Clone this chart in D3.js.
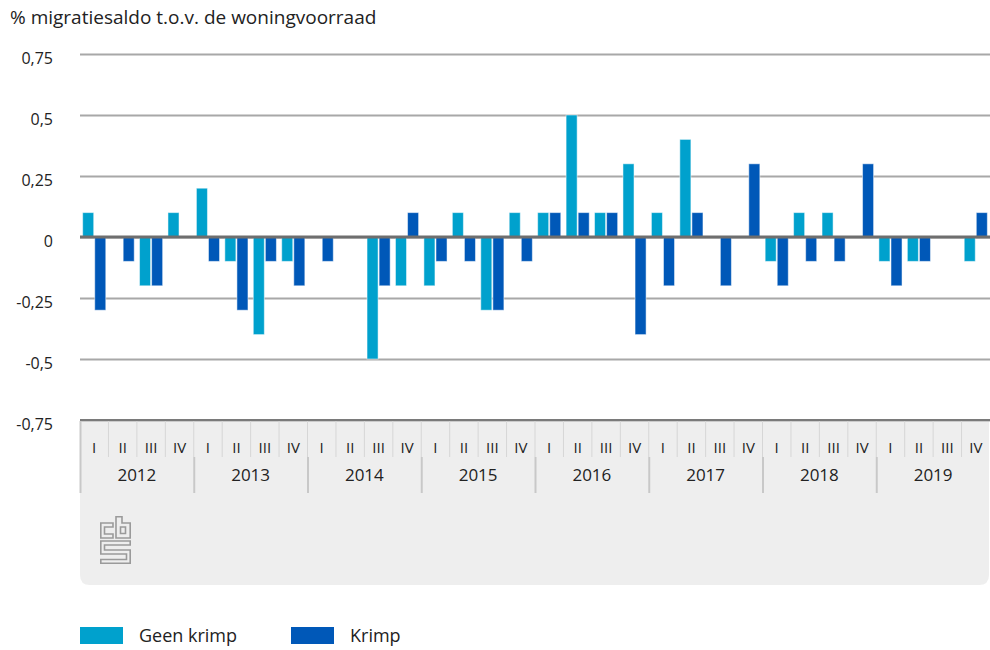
<!DOCTYPE html>
<html>
<head>
<meta charset="utf-8">
<script src="https://cdn.jsdelivr.net/npm/d3@7"></script>
<style>
  body { margin: 0; background: #fff; }
  svg text { font-family: "Open Sans", sans-serif; fill: #222; }
</style>
</head>
<body>
<div id="viz"></div>
<script>
var years = ["2012", "2013", "2014", "2015", "2016", "2017", "2018", "2019"],
    quarterNames = ["I", "II", "III", "IV"],
    seriesNames = ["Geen krimp", "Krimp"],
    seriesColors = ["#00a1cd", "#0058b8"],
    yTicks = [-0.75, -0.5, -0.25, 0, 0.25, 0.5, 0.75];

// one value per quarter, 2012 I .. 2019 IV
var geenKrimp = [0.1, 0, -0.2, 0.1,  0.2, -0.1, -0.4, -0.1,  0, 0, -0.5, -0.2,  -0.2, 0.1, -0.3, 0.1,
                 0.1, 0.5, 0.1, 0.3,  0.1, 0.4, 0, 0,  -0.1, 0.1, 0.1, 0,  -0.1, -0.1, 0, -0.1];
var krimp = [-0.3, -0.1, -0.2, 0,  -0.1, -0.3, -0.1, -0.2,  -0.1, 0, -0.2, 0.1,  -0.1, -0.1, -0.3, -0.1,
             0.1, 0.1, 0.1, -0.4,  -0.2, 0.1, -0.2, 0.3,  -0.2, -0.1, -0.1, 0.3,  -0.2, -0.1, 0, 0.1];

var quarters = [];
years.forEach(function(y){
    quarterNames.forEach(function(q){ quarters.push(y + "-" + q); });
});

var rows = quarters.map(function(q, i){
    return {
        key: q,
        year: q.split("-")[0],
        q: q.split("-")[1],
        values: [{s: 0, v: geenKrimp[i]}, {s: 1, v: krimp[i]}]
    };
});

var W = 990, H = 650,
    plotLeft = 80, plotRight = 990, plotTop = 54, plotBottom = 420;

var nl = d3.formatLocale({decimal: ",", thousands: ".", grouping: [3], currency: ["€", ""], minus: "-"});
var fmt = nl.format("~g");

var x = d3.scaleBand().domain(quarters).range([plotLeft, plotRight]);
var xs = d3.scaleBand().domain([0, 1]).range([0, x.bandwidth()]).paddingInner(0.085).paddingOuter(0.22);
var xYear = d3.scaleBand().domain(years).range([plotLeft, plotRight]);
var y = d3.scaleLinear().domain([-0.75, 0.75]).range([plotBottom, plotTop]);

var svg = d3.select("#viz").append("svg")
    .attr("width", W)
    .attr("height", H);

// title
svg.append("text")
    .attr("x", 10).attr("y", 24)
    .style("font-size", "19px")
    .text("% migratiesaldo t.o.v. de woningvoorraad");

// grey axis panel
var px0 = plotLeft, px1 = plotRight - 1, py0 = plotBottom, py1 = 585, r = 10;
svg.append("path")
    .attr("d", "M" + px0 + "," + py0 + "H" + px1 + "V" + (py1 - r) +
        "Q" + px1 + "," + py1 + " " + (px1 - r) + "," + py1 +
        "H" + (px0 + r) + "Q" + px0 + "," + py1 + " " + px0 + "," + (py1 - r) + "Z")
    .style("fill", "#eeeeee");

// gridlines + y labels
var yAxis = d3.axisLeft(y)
    .tickValues(yTicks)
    .tickSize(-(plotRight - plotLeft))
    .tickFormat(fmt);

var ga = svg.append("g")
    .attr("transform", "translate(" + plotLeft + ",0)")
    .call(yAxis);
ga.select(".domain").remove();
ga.selectAll(".tick line")
    .style("stroke", "#a8a8a8")
    .style("stroke-width", 2);
ga.selectAll(".tick text")
    .attr("x", -27)
    .attr("y", 9)
    .attr("dy", null)
    .style("font-size", "16px")
    .style("fill", "#222")
    .style("font-family", "'Open Sans', sans-serif");

// bars
var groups = svg.selectAll("g.quarter")
    .data(rows)
    .enter().append("g")
    .attr("class", "quarter")
    .attr("transform", function(d){ return "translate(" + x(d.key) + ",0)"; });

groups.selectAll("rect")
    .data(function(d){ return d.values.filter(function(e){ return e.v !== 0; }); })
    .enter().append("rect")
    .attr("x", function(d){ return xs(d.s); })
    .attr("width", xs.bandwidth())
    .attr("y", function(d){ return y(Math.max(0, d.v)); })
    .attr("height", function(d){ return Math.abs(y(d.v) - y(0)); })
    .style("fill", function(d){ return seriesColors[d.s]; })
    .style("stroke", "#ffffff")
    .style("stroke-opacity", 0.5)
    .style("stroke-width", 1);

// zero line
svg.append("line")
    .attr("x1", plotLeft).attr("x2", plotRight)
    .attr("y1", y(0)).attr("y2", y(0))
    .style("stroke", "#6e6e6e")
    .style("stroke-width", 3);

// bottom axis line
svg.append("line")
    .attr("x1", plotLeft).attr("x2", plotRight)
    .attr("y1", plotBottom).attr("y2", plotBottom)
    .style("stroke", "#7a7a7a")
    .style("stroke-width", 2);

// quarter separators and labels
svg.selectAll("line.qsep")
    .data(quarters.slice(1))
    .enter().append("line")
    .attr("class", "qsep")
    .attr("x1", function(d){ return x(d); })
    .attr("x2", function(d){ return x(d); })
    .attr("y1", plotBottom + 1).attr("y2", 457)
    .style("stroke", "#d6d6d6")
    .style("stroke-width", 1);

svg.selectAll("text.qlab")
    .data(rows)
    .enter().append("text")
    .attr("class", "qlab")
    .attr("x", function(d){ return x(d.key) + x.bandwidth() / 2; })
    .attr("y", 453)
    .attr("text-anchor", "middle")
    .style("font-size", "15px")
    .text(function(d){ return d.q; });

// year separators and labels
svg.selectAll("line.ysep")
    .data(years)
    .enter().append("line")
    .attr("class", "ysep")
    .attr("x1", function(d){ return xYear(d) + 0.5; })
    .attr("x2", function(d){ return xYear(d) + 0.5; })
    .attr("y1", function(d, i){ return i === 0 ? plotBottom + 1 : 457; })
    .attr("y2", 493)
    .style("stroke", "#c8c8c8")
    .style("stroke-width", 2);

svg.selectAll("text.ylab")
    .data(years)
    .enter().append("text")
    .attr("class", "ylab")
    .attr("x", function(d){ return xYear(d) + xYear.bandwidth() / 2; })
    .attr("y", 481)
    .attr("text-anchor", "middle")
    .style("font-size", "17px")
    .text(function(d){ return d; });

// cbs logo
var logo = svg.append("g")
    .attr("transform", "translate(100,516)")
    .style("fill", "none")
    .style("stroke", "#9a9a9a")
    .style("stroke-width", 1.6);
logo.append("path").attr("d", "M13,7H0.8V22H13V18H4.5V11H13Z");
logo.append("path").attr("d", "M16,0.8H22V7H30.2V22H16Z");
logo.append("path").attr("d", "M20.5,11H25.5V17.5H20.5Z");
logo.append("path").attr("d", "M0.8,25H30.2V29H4.5V34H30.2V47.2H0.8V43.5H26.5V38H0.8Z");

// legend
var legend = svg.selectAll("g.legend")
    .data(seriesNames)
    .enter().append("g")
    .attr("class", "legend")
    .attr("transform", function(d, i){ return "translate(" + (80 + i * 211) + ",627)"; });

legend.append("rect")
    .attr("width", 43).attr("height", 17)
    .style("fill", function(d, i){ return seriesColors[i]; });

legend.append("text")
    .attr("x", 59).attr("y", 15)
    .style("font-size", "18px")
    .text(function(d){ return d; });
</script>
</body>
</html>
